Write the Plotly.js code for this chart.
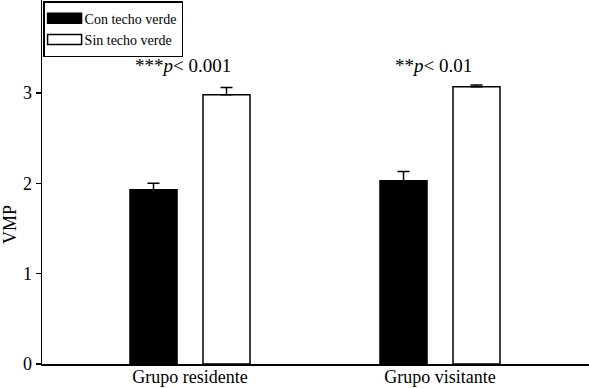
<!DOCTYPE html>
<html>
<head>
<meta charset="utf-8">
<script src="https://cdn.plot.ly/plotly-3.0.1.min.js"></script>
<style>
  html, body { margin: 0; padding: 0; background: #fff; }
  #plot { width: 589px; height: 388px; }
</style>
</head>
<body>
<div id="plot"></div>
<script>
// groups on the x axis
let groups = ['Grupo residente', 'Grupo visitante'];
let seriesNames = ['Con techo verde', 'Sin techo verde'];

// mean VMP per group
let conTecho = [1.93, 2.03];
let sinTecho = [2.98, 3.07];

// upper error (SE) per group
let conTechoErr = [0.07, 0.10];
let sinTechoErr = [0.08, 0.02];

// significance labels above each group
let sigLabels = ['***<i>p</i>< 0.001', '**<i>p</i>< 0.01'];

let serif = 'Liberation Serif, Times New Roman, serif';

function barTrace(name, y, err, fill) {
    return {
        type: 'bar',
        name: name,
        x: groups,
        y: y,
        marker: { color: fill, line: { color: '#000', width: 1.5 } },
        error_y: {
            type: 'data', symmetric: false, array: err,
            arrayminus: err.map(() => 0),
            color: '#000', thickness: 1.5, width: 6
        }
    };
}

let data = [
    barTrace(seriesNames[0], conTecho, conTechoErr, '#000'),
    barTrace(seriesNames[1], sinTecho, sinTechoErr, '#fff')
];

// significance text sits above the pair of bars
let annotations = groups.map((g, i) => ({
    x: g, y: 3.31, xref: 'x', yref: 'y', xshift: -7,
    text: sigLabels[i], showarrow: false,
    font: { family: serif, size: 19, color: '#000' }
}));

// y axis label sits a bit below the middle in the original
annotations.push({
    x: -0.0585, y: 0.382, xref: 'paper', yref: 'paper',
    text: 'VMP', textangle: -90, showarrow: false,
    xanchor: 'center', yanchor: 'middle',
    font: { family: serif, size: 18, color: '#000' }
});

let layout = {
    width: 589,
    height: 388,
    margin: { l: 42, r: 0, t: 0, b: 24 },
    paper_bgcolor: '#fff',
    plot_bgcolor: '#fff',
    barmode: 'group',
    bargap: 0.416,
    bargroupgap: 0.356,
    font: { family: serif, color: '#000' },
    showlegend: true,
    legend: {
        x: 0.002, y: 0.997, xanchor: 'left', yanchor: 'top',
        bordercolor: '#000', borderwidth: 1.5, bgcolor: '#fff',
        font: { family: serif, size: 14 },
        tracegroupgap: 0
    },
    xaxis: {
        type: 'category',
        range: [-0.592, 1.596],
        showline: true, linecolor: '#000', linewidth: 1.5,
        ticks: '', showgrid: false, zeroline: false,
        ticklabelstandoff: -4,
        tickfont: { family: serif, size: 18 }
    },
    yaxis: {
        range: [0, 4.03],
        tickvals: [0, 1, 2, 3],
        showline: true, linecolor: '#000', linewidth: 1.5,
        ticks: 'outside', ticklen: 5, tickwidth: 1.5, tickcolor: '#000',
        showgrid: false, zeroline: false,
        tickfont: { family: serif, size: 18 }
    },
    annotations: annotations
};

Plotly.newPlot('plot', data, layout, { displayModeBar: false, staticPlot: true }).then(function (gd) {
    // widen the legend swatches into flat rectangles like the original figure
    gd.querySelectorAll('.legendpoints path').forEach(function (p) {
        p.setAttribute('d', 'M17,5H-17V-5H17Z');
    });
});
</script>
</body>
</html>
